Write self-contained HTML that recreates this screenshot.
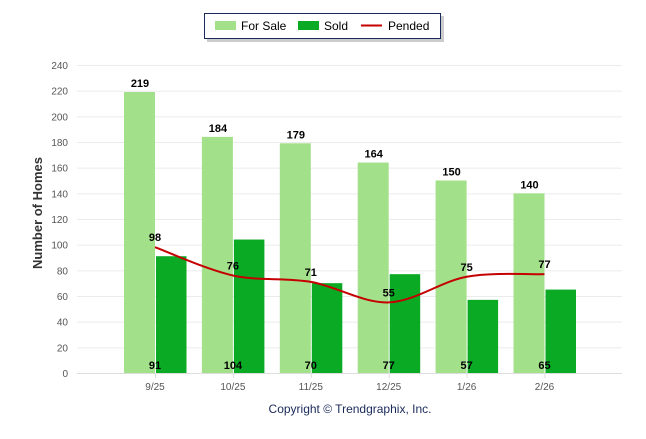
<!DOCTYPE html>
<html><head><meta charset="utf-8"><style>
body{margin:0;background:#fff;font-family:"Liberation Sans",Arial,sans-serif}
svg text{font-family:"Liberation Sans",Arial,sans-serif}
</style></head><body>
<svg id="c" width="646" height="434">
<g>
<rect x="207" y="16" width="237" height="26" fill="#999" opacity="0.5"/>
<rect x="204.5" y="13.5" width="236" height="25" fill="#fff" stroke="#1a2a5a" stroke-width="1"/>
<rect x="215" y="21" width="21" height="9" fill="#a3e08a"/>
<text x="241" y="30" font-size="12" fill="#000">For Sale</text>
<rect x="298" y="21" width="21" height="9" fill="#0aaa25"/>
<text x="324" y="30" font-size="12" fill="#000">Sold</text>
<line x1="361" y1="25.5" x2="382" y2="25.5" stroke="#c40000" stroke-width="2"/>
<text x="388" y="30" font-size="12" fill="#000">Pended</text>
</g>
<text transform="translate(42,213) rotate(-90)" text-anchor="middle" font-size="13" font-weight="bold" fill="#333">Number of Homes</text>
<text x="350" y="413" text-anchor="middle" font-size="12" fill="#1a2a5a">Copyright © Trendgraphix, Inc.</text>
<g id="grid"></g><g id="bars"></g><g id="line"></g><g id="labels"></g>
</svg>
<script>
const categories=["9/25","10/25","11/25","12/25","1/26","2/26"];
const forSale=[219,184,179,164,150,140];
const sold=[91,104,70,77,57,65];
const pended=[98,76,71,55,75,77];
const yTicks=[0,20,40,60,80,100,120,140,160,180,200,220,240];
const NS="http://www.w3.org/2000/svg";
const y0=373,yTop=65,yMax=240;
const y=v=>y0-(v/yMax)*(y0-yTop);
const cx=i=>155+i*77.9;
function mk(t,a,p,txt){const e=document.createElementNS(NS,t);for(const k in a)e.setAttribute(k,a[k]);if(txt!=null)e.textContent=txt;p.appendChild(e);return e;}
const grid=document.getElementById('grid'),bars=document.getElementById('bars'),lg=document.getElementById('line'),lb=document.getElementById('labels');
yTicks.forEach(t=>{
 const l=mk('line',{x1:77,x2:622,y1:y(t)+0.5,y2:y(t)+0.5,stroke:t===0?'#ddd':'#ebebeb','stroke-width':1},grid);
 
 
 const tx=mk('text',{x:68,y:y(t)+4,'text-anchor':'end','font-size':10,fill:'#555'},grid,String(t));
 
 
});
categories.forEach((c,i)=>{
 const x=cx(i);
 const a=mk('rect',{x:x-31,y:y(forSale[i]),width:31,height:y0-y(forSale[i]),fill:'#a3e08a'},bars);
 
 
 const b=mk('rect',{x:x+1,y:y(sold[i]),width:30.5,height:y0-y(sold[i]),fill:'#0aaa25'},bars);
 
 
 const t1=mk('text',{x:x-15,y:y(forSale[i])-5,'text-anchor':'middle','font-size':11,'font-weight':'bold',fill:'#000'},lb,String(forSale[i]));
 
 
 const t2=mk('text',{x:x,y:369,'text-anchor':'middle','font-size':11,'font-weight':'bold',fill:'#000'},lb,String(sold[i]));
 
 
 const t3=mk('text',{x:x,y:y(pended[i])-6,'text-anchor':'middle','font-size':11,'font-weight':'bold',fill:'#000'},lb,String(pended[i]));
 
 
 const xl=mk('text',{x:x,y:390,'text-anchor':'middle','font-size':10,fill:'#555'},grid,c);
 
 
 const tk=mk('line',{x1:x+0.5,x2:x+0.5,y1:373,y2:378,stroke:'#ddd'},grid);
 
 
});
const pts=pended.map((v,i)=>[cx(i),y(v)]);
let d='M'+pts[0][0]+','+pts[0][1];
for(let i=0;i<pts.length-1;i++){
 const p0=pts[Math.max(i-1,0)],p1=pts[i],p2=pts[i+1],p3=pts[Math.min(i+2,pts.length-1)];
 const c1=[p1[0]+(p2[0]-p0[0])/6,p1[1]+(p2[1]-p0[1])/6],c2=[p2[0]-(p3[0]-p1[0])/6,p2[1]-(p3[1]-p1[1])/6];
 d+=' C'+c1+' '+c2+' '+p2;
}
const path=mk('path',{d:d,fill:'none',stroke:'#c40000','stroke-width':2},lg);


</script>
</body></html>
